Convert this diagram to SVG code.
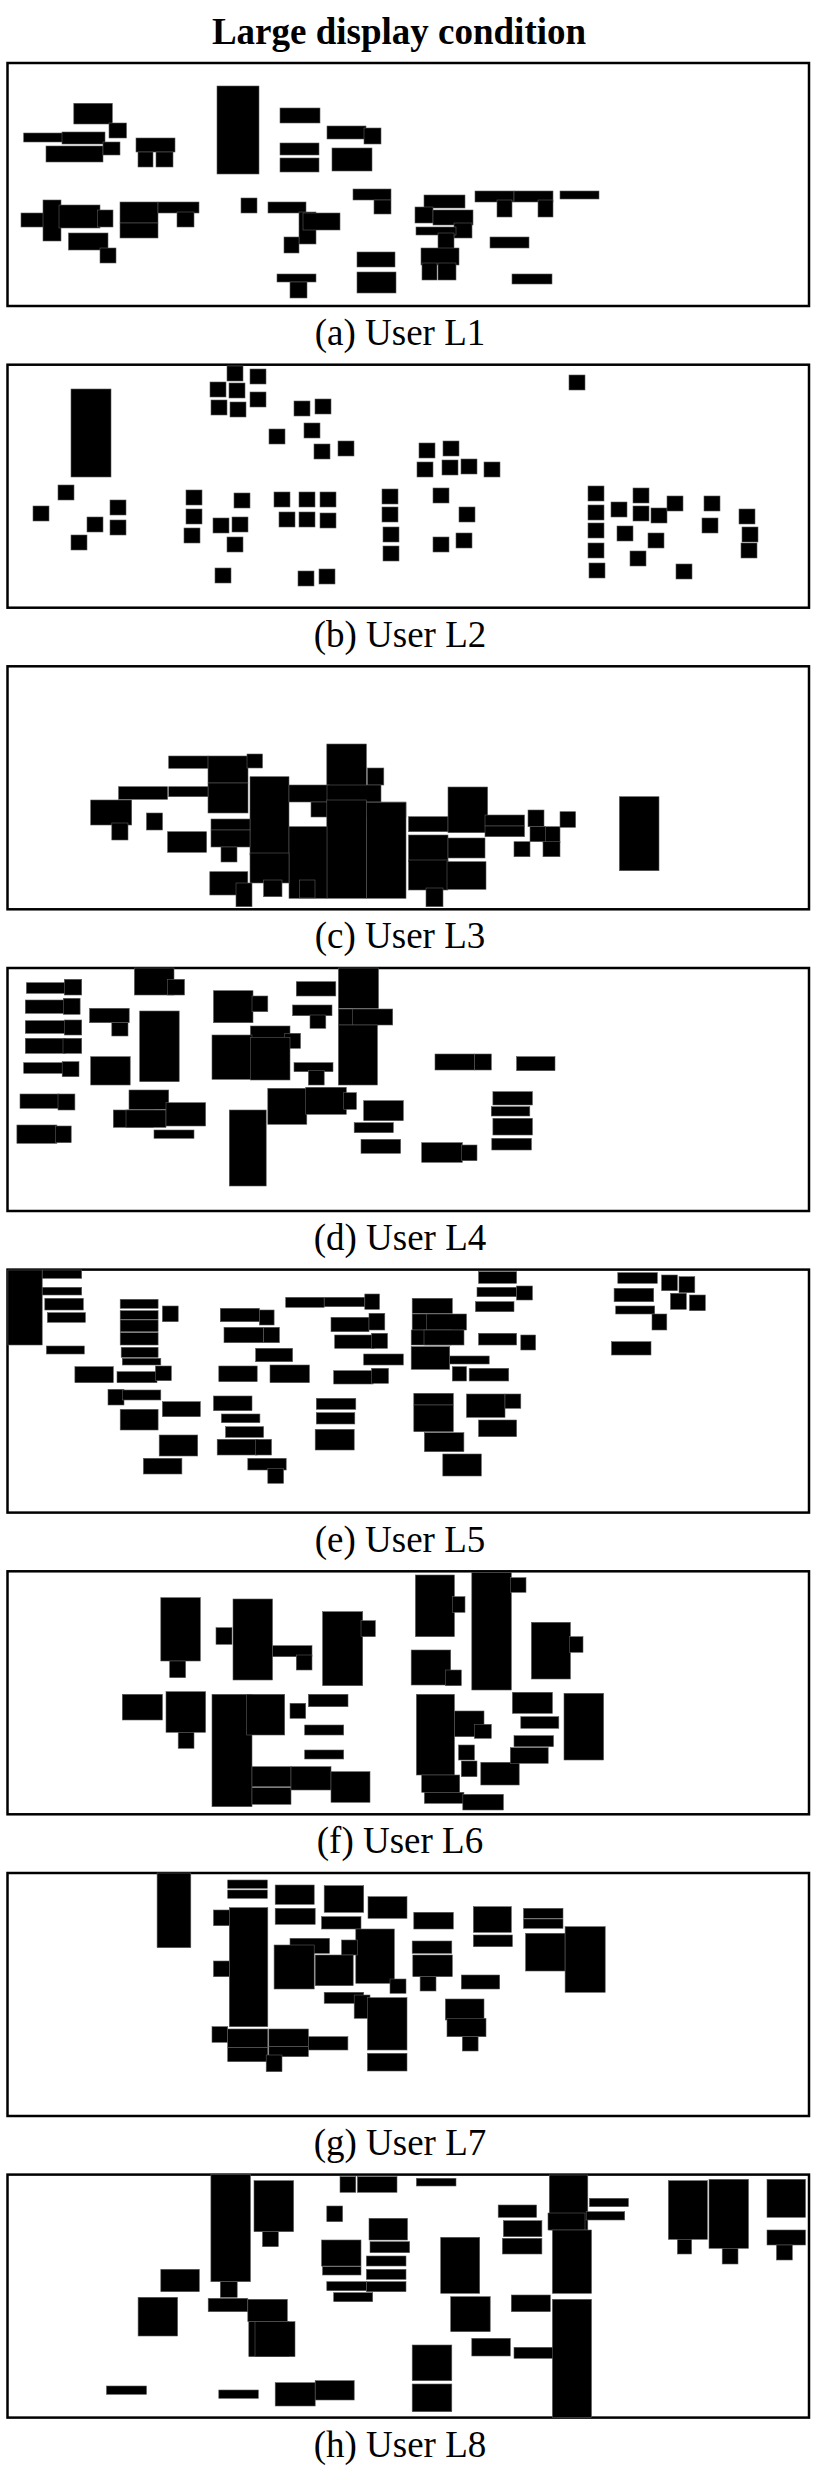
<svg xmlns="http://www.w3.org/2000/svg" width="816" height="2480" viewBox="0 0 816 2480">
<style>
.frame{fill:#fff;stroke:#000;stroke-width:2.5}
.b rect{fill:#000;stroke:#5a5a5a;stroke-width:0.6}
.cap{font-family:"Liberation Serif","Times New Roman",serif;font-size:37px;text-anchor:middle;fill:#000}
.title{font-family:"Liberation Serif","Times New Roman",serif;font-size:37px;font-weight:bold;text-anchor:middle;fill:#000}
</style>
<rect x="0" y="0" width="816" height="2480" fill="#fff"/>
<text class="title" x="399" y="44">Large display condition</text>

<g id="panel-a">
<rect class="frame" x="7.5" y="63" width="801.5" height="243"/>
<g class="b">
<rect x="73.8" y="103.3" width="38.5" height="20.7"/>
<rect x="109" y="123" width="17.5" height="15"/>
<rect x="23.7" y="133" width="40.6" height="9"/>
<rect x="62" y="132" width="43" height="12"/>
<rect x="46" y="146" width="57" height="16"/>
<rect x="103" y="142" width="17" height="13"/>
<rect x="136" y="138" width="39" height="14"/>
<rect x="138" y="152" width="15" height="15"/>
<rect x="156" y="152" width="17" height="15"/>
<rect x="217" y="86" width="42" height="88"/>
<rect x="280" y="108" width="40" height="15"/>
<rect x="327" y="126" width="39" height="13"/>
<rect x="364" y="128" width="17" height="16"/>
<rect x="280" y="143" width="39" height="12"/>
<rect x="280" y="158" width="39" height="14"/>
<rect x="332" y="148" width="40" height="23"/>
<rect x="21" y="213" width="40" height="14"/>
<rect x="43" y="200" width="18" height="41"/>
<rect x="59" y="205" width="41" height="23"/>
<rect x="97.5" y="210" width="15.5" height="17"/>
<rect x="68.5" y="233" width="39.5" height="17"/>
<rect x="100" y="248" width="16" height="15"/>
<rect x="120" y="202" width="38" height="21"/>
<rect x="120" y="223" width="38" height="15"/>
<rect x="158" y="202" width="41" height="11"/>
<rect x="177" y="212" width="17" height="15"/>
<rect x="241" y="198" width="16" height="15"/>
<rect x="268" y="202" width="38" height="11"/>
<rect x="299" y="212" width="17" height="32"/>
<rect x="303" y="213" width="37" height="17"/>
<rect x="284" y="237" width="15" height="16"/>
<rect x="277" y="274" width="39" height="8"/>
<rect x="290" y="282" width="17" height="16"/>
<rect x="353" y="189" width="38" height="11"/>
<rect x="374" y="200" width="17" height="14"/>
<rect x="357" y="252" width="38" height="15"/>
<rect x="357" y="272" width="39" height="21"/>
<rect x="424" y="195" width="41" height="13"/>
<rect x="415" y="207" width="18" height="16"/>
<rect x="433" y="210" width="40" height="15"/>
<rect x="454" y="223" width="18" height="15"/>
<rect x="416" y="227" width="40" height="8"/>
<rect x="438" y="233" width="16" height="20"/>
<rect x="421" y="248" width="38" height="17"/>
<rect x="422" y="263" width="15" height="17"/>
<rect x="438" y="263" width="18" height="17"/>
<rect x="475" y="191" width="39" height="11"/>
<rect x="497" y="200" width="15" height="17"/>
<rect x="514" y="191" width="39" height="11"/>
<rect x="538" y="200" width="15" height="17"/>
<rect x="560" y="191" width="39" height="8"/>
<rect x="490" y="237" width="39" height="11"/>
<rect x="512" y="274" width="40" height="10"/>
</g>
<text class="cap" x="400" y="345">(a) User L1</text>
</g>

<g id="panel-b">
<rect class="frame" x="7.5" y="364.7" width="801.5" height="243"/>
<g class="b">
<rect x="71" y="389" width="40" height="88"/>
<rect x="227" y="366" width="16" height="15"/>
<rect x="250" y="369" width="16" height="15"/>
<rect x="210" y="382" width="16" height="15"/>
<rect x="229" y="383" width="16" height="15"/>
<rect x="250" y="392" width="16" height="15"/>
<rect x="211" y="400" width="16" height="15"/>
<rect x="230" y="402" width="16" height="15"/>
<rect x="294" y="401" width="16" height="15"/>
<rect x="315" y="399" width="16" height="15"/>
<rect x="269" y="429" width="16" height="15"/>
<rect x="304" y="423" width="16" height="15"/>
<rect x="314" y="444" width="16" height="15"/>
<rect x="338" y="441" width="16" height="15"/>
<rect x="419" y="443" width="16" height="15"/>
<rect x="443" y="441" width="16" height="15"/>
<rect x="417" y="462" width="16" height="15"/>
<rect x="442" y="460" width="16" height="15"/>
<rect x="461" y="459" width="16" height="15"/>
<rect x="484" y="462" width="16" height="15"/>
<rect x="569" y="375" width="16" height="15"/>
<rect x="58" y="485" width="16" height="15"/>
<rect x="33" y="506" width="16" height="15"/>
<rect x="110" y="500" width="16" height="15"/>
<rect x="87" y="517" width="16" height="15"/>
<rect x="110" y="520" width="16" height="15"/>
<rect x="71" y="535" width="16" height="15"/>
<rect x="186" y="490" width="16" height="15"/>
<rect x="186" y="509" width="16" height="15"/>
<rect x="184" y="528" width="16" height="15"/>
<rect x="234" y="493" width="16" height="15"/>
<rect x="213" y="518" width="16" height="15"/>
<rect x="232" y="517" width="16" height="15"/>
<rect x="227" y="537" width="16" height="15"/>
<rect x="274" y="492" width="16" height="15"/>
<rect x="299" y="492" width="16" height="15"/>
<rect x="320" y="492" width="16" height="15"/>
<rect x="279" y="512" width="16" height="15"/>
<rect x="299" y="512" width="16" height="15"/>
<rect x="320" y="513" width="16" height="15"/>
<rect x="215" y="568" width="16" height="15"/>
<rect x="298" y="571" width="16" height="15"/>
<rect x="319" y="569" width="16" height="15"/>
<rect x="382" y="489" width="16" height="15"/>
<rect x="382" y="507" width="16" height="15"/>
<rect x="383" y="527" width="16" height="15"/>
<rect x="383" y="546" width="16" height="15"/>
<rect x="433" y="488" width="16" height="15"/>
<rect x="459" y="507" width="16" height="15"/>
<rect x="433" y="537" width="16" height="15"/>
<rect x="456" y="533" width="16" height="15"/>
<rect x="588" y="486" width="16" height="15"/>
<rect x="588" y="505" width="16" height="15"/>
<rect x="588" y="523" width="16" height="15"/>
<rect x="588" y="543" width="16" height="15"/>
<rect x="589" y="563" width="16" height="15"/>
<rect x="611" y="502" width="16" height="15"/>
<rect x="633" y="488" width="16" height="15"/>
<rect x="633" y="506" width="16" height="15"/>
<rect x="651" y="508" width="16" height="15"/>
<rect x="667" y="496" width="16" height="15"/>
<rect x="617" y="526" width="16" height="15"/>
<rect x="648" y="533" width="16" height="15"/>
<rect x="630" y="551" width="16" height="15"/>
<rect x="676" y="564" width="16" height="15"/>
<rect x="704" y="496" width="16" height="15"/>
<rect x="702" y="518" width="16" height="15"/>
<rect x="739" y="509" width="16" height="15"/>
<rect x="742" y="527" width="16" height="15"/>
<rect x="741" y="543" width="16" height="15"/>
</g>
<text class="cap" x="400" y="646.6">(b) User L2</text>
</g>

<g id="panel-c">
<rect class="frame" x="7.5" y="666.3" width="801.5" height="243"/>
<g class="b">
<rect x="168.7" y="756" width="39.5" height="12.3"/>
<rect x="208" y="756" width="40" height="27"/>
<rect x="208" y="783" width="40" height="30"/>
<rect x="247" y="754" width="15.5" height="14"/>
<rect x="250" y="776.7" width="39" height="78.3"/>
<rect x="118.6" y="786.7" width="49" height="12.6"/>
<rect x="168.7" y="786.7" width="39.3" height="10"/>
<rect x="90.7" y="800" width="41" height="25"/>
<rect x="111.8" y="823" width="16.2" height="17"/>
<rect x="146.5" y="813" width="16" height="17"/>
<rect x="167.6" y="831.7" width="39" height="20.6"/>
<rect x="211" y="819" width="39" height="11"/>
<rect x="211" y="830" width="39" height="17"/>
<rect x="221" y="847" width="16" height="15"/>
<rect x="326.8" y="744" width="39.6" height="42.7"/>
<rect x="367.4" y="768" width="16.4" height="17"/>
<rect x="289" y="785" width="40" height="17"/>
<rect x="327" y="785" width="54" height="17"/>
<rect x="311" y="802" width="40" height="15"/>
<rect x="366" y="802" width="40" height="15"/>
<rect x="326.8" y="800" width="39.6" height="98.3"/>
<rect x="366.4" y="802.7" width="39.6" height="95.6"/>
<rect x="289" y="826.7" width="38" height="71.6"/>
<rect x="250" y="853" width="39" height="30"/>
<rect x="209.8" y="871.7" width="38" height="23.3"/>
<rect x="236" y="883" width="16" height="23.7"/>
<rect x="263.6" y="880" width="18.4" height="16.7"/>
<rect x="299.4" y="880" width="15.6" height="18"/>
<rect x="408.5" y="816.7" width="39.5" height="15"/>
<rect x="448" y="787" width="39.6" height="45.7"/>
<rect x="408.5" y="835" width="39.5" height="26.7"/>
<rect x="448" y="838" width="37" height="20"/>
<rect x="408.5" y="860" width="39.5" height="30"/>
<rect x="447" y="861.7" width="39" height="27.6"/>
<rect x="426" y="888" width="17" height="18.7"/>
<rect x="485" y="815" width="39.5" height="11"/>
<rect x="485" y="826" width="39.5" height="10.7"/>
<rect x="528" y="810" width="16" height="16.7"/>
<rect x="543" y="826.7" width="17" height="16"/>
<rect x="560" y="811.7" width="15.6" height="15.6"/>
<rect x="514" y="841.7" width="16" height="15"/>
<rect x="543" y="841.7" width="17" height="15"/>
<rect x="530" y="826.7" width="15.6" height="15"/>
<rect x="619.4" y="796.7" width="39.6" height="74"/>
</g>
<text class="cap" x="400" y="948.2">(c) User L3</text>
</g>

<g id="panel-d">
<rect class="frame" x="7.5" y="968" width="801.5" height="243"/>
<g class="b">
<rect x="134.4" y="968" width="39.6" height="27"/>
<rect x="167.6" y="979.3" width="16.9" height="15.7"/>
<rect x="26.4" y="982.7" width="41" height="10.6"/>
<rect x="64.3" y="979.3" width="17.4" height="15.7"/>
<rect x="25.3" y="1000" width="40.6" height="13.3"/>
<rect x="63.3" y="998.3" width="16.8" height="16"/>
<rect x="25.3" y="1020.7" width="40.6" height="12.6"/>
<rect x="64.3" y="1020" width="17.4" height="15"/>
<rect x="25.3" y="1038.3" width="40" height="15"/>
<rect x="63" y="1038.3" width="18.7" height="15"/>
<rect x="23.7" y="1062.7" width="39.6" height="10.6"/>
<rect x="62.2" y="1061.7" width="16.8" height="15"/>
<rect x="89.6" y="1008.3" width="39.6" height="14.4"/>
<rect x="111.8" y="1022.7" width="16.2" height="13.3"/>
<rect x="90.7" y="1056.7" width="39.5" height="28.3"/>
<rect x="139.7" y="1011" width="39.5" height="70.7"/>
<rect x="213.5" y="990.7" width="39.5" height="32"/>
<rect x="252" y="996" width="15.8" height="15.7"/>
<rect x="296.3" y="981.7" width="39.5" height="14.3"/>
<rect x="292.6" y="1005" width="39.4" height="10.7"/>
<rect x="310" y="1015" width="15.8" height="13.3"/>
<rect x="338.4" y="968" width="40.1" height="40.3"/>
<rect x="338.4" y="1009" width="40" height="16"/>
<rect x="352.7" y="1009" width="40" height="16"/>
<rect x="338.4" y="1025" width="39" height="60"/>
<rect x="250.4" y="1026" width="39.6" height="14"/>
<rect x="284.7" y="1033.3" width="15.8" height="15"/>
<rect x="212" y="1035" width="40" height="44.3"/>
<rect x="250.4" y="1037.3" width="39.6" height="42.7"/>
<rect x="294" y="1062.7" width="39" height="9"/>
<rect x="308.4" y="1070.7" width="15.8" height="14.3"/>
<rect x="435" y="1054" width="39.4" height="16"/>
<rect x="474.4" y="1054" width="16.9" height="16"/>
<rect x="516.6" y="1056.7" width="38.4" height="14"/>
<rect x="20" y="1094" width="39" height="14.3"/>
<rect x="58" y="1094" width="16.9" height="16"/>
<rect x="16.9" y="1125" width="40" height="18.3"/>
<rect x="55.4" y="1126" width="15.8" height="16.7"/>
<rect x="129" y="1090" width="39.7" height="19.3"/>
<rect x="113.3" y="1110" width="40" height="17.3"/>
<rect x="126" y="1110" width="40" height="17.3"/>
<rect x="166" y="1102.7" width="39.6" height="23.3"/>
<rect x="154" y="1130" width="40" height="8.3"/>
<rect x="229.3" y="1110" width="36.9" height="76"/>
<rect x="267.8" y="1088.3" width="39" height="36"/>
<rect x="305.7" y="1087.3" width="40.6" height="27"/>
<rect x="343.7" y="1092.7" width="12.7" height="16.6"/>
<rect x="363.7" y="1100.7" width="39.6" height="20"/>
<rect x="354.2" y="1122.7" width="39.1" height="10"/>
<rect x="361" y="1139.3" width="39.6" height="14"/>
<rect x="421.7" y="1142.7" width="40.6" height="19.6"/>
<rect x="461.3" y="1145" width="15.7" height="15.7"/>
<rect x="492.9" y="1091.7" width="39.5" height="13.3"/>
<rect x="491.3" y="1106.7" width="38.5" height="9.3"/>
<rect x="492.9" y="1118.3" width="39.5" height="16.7"/>
<rect x="491.8" y="1138.3" width="39.6" height="11.7"/>
</g>
<text class="cap" x="400" y="1249.9">(d) User L4</text>
</g>

<g id="panel-e">
<rect class="frame" x="7.5" y="1269.6" width="801.5" height="243"/>
<g class="b">
<rect x="7.9" y="1270" width="34.3" height="75"/>
<rect x="42.2" y="1270" width="39.5" height="8.3"/>
<rect x="42.2" y="1287.3" width="39.5" height="7.7"/>
<rect x="44.8" y="1298.3" width="38.5" height="11.7"/>
<rect x="47.4" y="1312.7" width="38" height="9.6"/>
<rect x="46.4" y="1346" width="37.9" height="8"/>
<rect x="120.2" y="1299.3" width="37.9" height="9"/>
<rect x="120.2" y="1310.7" width="37.9" height="8.6"/>
<rect x="162.4" y="1306" width="15.8" height="15.7"/>
<rect x="120.2" y="1320" width="37.9" height="11.7"/>
<rect x="120.2" y="1332.7" width="37.9" height="12.3"/>
<rect x="121.2" y="1347.3" width="36.9" height="10"/>
<rect x="122.3" y="1358.3" width="38.5" height="6.7"/>
<rect x="117" y="1371.7" width="40" height="11"/>
<rect x="155.5" y="1366" width="15.8" height="14.7"/>
<rect x="74.9" y="1366.7" width="38.4" height="16"/>
<rect x="108" y="1389.3" width="16" height="15.7"/>
<rect x="122.3" y="1390" width="38.5" height="10"/>
<rect x="162.4" y="1401.7" width="37.9" height="15"/>
<rect x="120.2" y="1409.3" width="37.9" height="20.7"/>
<rect x="159.2" y="1435" width="38.5" height="21"/>
<rect x="143.4" y="1458.3" width="38.5" height="15.7"/>
<rect x="220.3" y="1308.3" width="39.1" height="13.4"/>
<rect x="259.4" y="1310" width="14.7" height="15"/>
<rect x="224" y="1327.3" width="39.6" height="15.4"/>
<rect x="263.6" y="1327.3" width="15.8" height="15.4"/>
<rect x="255.7" y="1348.3" width="36.9" height="13.4"/>
<rect x="218.8" y="1366" width="38.4" height="15.7"/>
<rect x="270" y="1365" width="39.4" height="17.7"/>
<rect x="213.5" y="1396" width="38.5" height="14.7"/>
<rect x="221.4" y="1414" width="38.5" height="8.7"/>
<rect x="225.6" y="1426.7" width="38" height="10.6"/>
<rect x="217.2" y="1439.3" width="40" height="15.7"/>
<rect x="255.7" y="1439.3" width="15.8" height="15.7"/>
<rect x="247.8" y="1458.3" width="38.4" height="11.7"/>
<rect x="267.8" y="1468.3" width="15.8" height="15"/>
<rect x="285.7" y="1297.3" width="38.5" height="10"/>
<rect x="324.2" y="1297.3" width="40.6" height="9.4"/>
<rect x="364.8" y="1294" width="14.7" height="15.3"/>
<rect x="331" y="1317.3" width="38" height="14.4"/>
<rect x="369" y="1313.3" width="15.8" height="16.7"/>
<rect x="334.7" y="1335" width="39.6" height="13.3"/>
<rect x="371.6" y="1333.3" width="15.9" height="15"/>
<rect x="363.7" y="1354" width="39.6" height="11"/>
<rect x="333.7" y="1370.7" width="39.5" height="13.3"/>
<rect x="371.6" y="1368.3" width="16.9" height="15"/>
<rect x="316.3" y="1398.3" width="39.5" height="11"/>
<rect x="316.3" y="1412.7" width="38.5" height="11.3"/>
<rect x="315.2" y="1429.3" width="39" height="20.7"/>
<rect x="412.2" y="1298.3" width="40.1" height="15"/>
<rect x="412.2" y="1314" width="40" height="16"/>
<rect x="426.5" y="1314" width="40" height="16"/>
<rect x="411.2" y="1330" width="40" height="15"/>
<rect x="424" y="1330" width="40" height="15"/>
<rect x="411.2" y="1346.7" width="38.5" height="22.6"/>
<rect x="449.7" y="1356" width="39.5" height="8"/>
<rect x="452.3" y="1366.7" width="14.2" height="14.3"/>
<rect x="469.2" y="1368.3" width="39.5" height="12.7"/>
<rect x="478.6" y="1271.7" width="38" height="11.6"/>
<rect x="477" y="1287.3" width="39.6" height="9.4"/>
<rect x="516.6" y="1286" width="15.8" height="14"/>
<rect x="475.5" y="1301.7" width="38.5" height="10"/>
<rect x="478.6" y="1333.3" width="38" height="11.7"/>
<rect x="520.8" y="1335" width="14.8" height="15"/>
<rect x="413.8" y="1393.3" width="39.5" height="11.7"/>
<rect x="413.8" y="1405" width="39.5" height="26.7"/>
<rect x="424.4" y="1432.7" width="39.5" height="19"/>
<rect x="442.8" y="1454" width="38.5" height="22"/>
<rect x="466.5" y="1394" width="38.5" height="23.3"/>
<rect x="505" y="1394" width="15.8" height="14.3"/>
<rect x="478.6" y="1420" width="38" height="16.7"/>
<rect x="617.8" y="1272.7" width="39.5" height="10.6"/>
<rect x="614.1" y="1288.3" width="39.6" height="13.4"/>
<rect x="615.7" y="1306" width="39" height="8"/>
<rect x="652" y="1314" width="14.8" height="16"/>
<rect x="611.5" y="1341.7" width="39.5" height="13.3"/>
<rect x="661.6" y="1275" width="15.8" height="15.7"/>
<rect x="679" y="1276.7" width="15.8" height="16"/>
<rect x="670.5" y="1293.3" width="15.8" height="16"/>
<rect x="689.5" y="1295" width="15.8" height="15.7"/>
</g>
<text class="cap" x="400" y="1551.5">(e) User L5</text>
</g>

<g id="panel-f">
<rect class="frame" x="7.5" y="1571.3" width="801.5" height="243"/>
<g class="b">
<rect x="160.8" y="1597.7" width="39.5" height="63.3"/>
<rect x="169.7" y="1661" width="15.9" height="16.7"/>
<rect x="216" y="1627.7" width="16" height="16.6"/>
<rect x="233" y="1599" width="39.5" height="81"/>
<rect x="272.5" y="1645.7" width="39.5" height="11"/>
<rect x="296.3" y="1655" width="15.7" height="15"/>
<rect x="322.6" y="1611.7" width="40.1" height="74"/>
<rect x="361" y="1620.7" width="14.3" height="16"/>
<rect x="415.4" y="1575" width="39" height="61.7"/>
<rect x="452.3" y="1596.7" width="12.7" height="15.6"/>
<rect x="411.2" y="1650" width="39.5" height="35"/>
<rect x="445.4" y="1670" width="15.9" height="15.7"/>
<rect x="471.8" y="1572.3" width="39.5" height="117.7"/>
<rect x="510.3" y="1577.7" width="15.7" height="14.6"/>
<rect x="531.4" y="1622.3" width="39" height="56.7"/>
<rect x="569.3" y="1636.7" width="13.7" height="15.6"/>
<rect x="122.3" y="1694.3" width="40.1" height="25.7"/>
<rect x="166" y="1691.7" width="39.6" height="40.6"/>
<rect x="178.2" y="1732.3" width="15.8" height="16"/>
<rect x="212" y="1694.3" width="40" height="112.4"/>
<rect x="246.7" y="1694.3" width="38" height="40.7"/>
<rect x="290" y="1703.3" width="15.7" height="15"/>
<rect x="308.4" y="1694.3" width="39.6" height="12.4"/>
<rect x="304.7" y="1725" width="39" height="10"/>
<rect x="304.7" y="1750" width="39" height="9"/>
<rect x="252" y="1766.7" width="39" height="20"/>
<rect x="252" y="1787.7" width="39" height="16.6"/>
<rect x="291" y="1766.7" width="40" height="23.3"/>
<rect x="331" y="1771.7" width="39" height="30.6"/>
<rect x="416.4" y="1694.3" width="38" height="80.7"/>
<rect x="454.4" y="1711" width="29.6" height="25.7"/>
<rect x="474.4" y="1724.3" width="16.9" height="14"/>
<rect x="458.6" y="1745" width="15.8" height="15"/>
<rect x="461.3" y="1761" width="15.7" height="15.7"/>
<rect x="421.7" y="1775" width="38" height="17.3"/>
<rect x="424.4" y="1792.3" width="39.5" height="11"/>
<rect x="462.8" y="1794.3" width="40.6" height="15.7"/>
<rect x="480.8" y="1762.3" width="38.4" height="22.7"/>
<rect x="510.3" y="1747.7" width="37.9" height="15.6"/>
<rect x="514" y="1735.7" width="39.5" height="11"/>
<rect x="520.8" y="1716.7" width="38" height="11.6"/>
<rect x="512.4" y="1692.3" width="40" height="21"/>
<rect x="564" y="1693.3" width="39.6" height="66.7"/>
</g>
<text class="cap" x="400" y="1853.2">(f) User L6</text>
</g>

<g id="panel-g">
<rect class="frame" x="7.5" y="1873" width="801.5" height="243"/>
<g class="b">
<rect x="157.1" y="1873" width="33.7" height="74.7"/>
<rect x="227.7" y="1880" width="39.6" height="8.3"/>
<rect x="227.7" y="1890" width="39.6" height="8.3"/>
<rect x="213.5" y="1910" width="15.8" height="15.7"/>
<rect x="229.3" y="1907.7" width="38.5" height="119"/>
<rect x="213.5" y="1961" width="15.8" height="15.7"/>
<rect x="275.2" y="1885" width="39" height="19.3"/>
<rect x="275.2" y="1908.3" width="40" height="16"/>
<rect x="324.2" y="1885.7" width="39.5" height="26.6"/>
<rect x="368" y="1896.7" width="39" height="21.6"/>
<rect x="321.6" y="1916.7" width="39.4" height="12.3"/>
<rect x="355.8" y="1929" width="38.5" height="54.3"/>
<rect x="390" y="1979" width="16" height="14.3"/>
<rect x="290" y="1938.3" width="39.5" height="15"/>
<rect x="341.6" y="1940" width="15.8" height="15"/>
<rect x="274.1" y="1945" width="40.1" height="44"/>
<rect x="315.2" y="1955" width="38" height="30.7"/>
<rect x="413.8" y="1912.3" width="39.5" height="16.7"/>
<rect x="412.2" y="1941" width="39.6" height="12.3"/>
<rect x="412.8" y="1955" width="39.5" height="21.7"/>
<rect x="420.1" y="1976.7" width="15.9" height="14.3"/>
<rect x="473.4" y="1906.7" width="37.9" height="25.6"/>
<rect x="473.4" y="1935" width="39" height="11.7"/>
<rect x="461.3" y="1975" width="38.4" height="14"/>
<rect x="523.5" y="1908.3" width="39.5" height="10"/>
<rect x="523.5" y="1919" width="39.5" height="9.3"/>
<rect x="525.6" y="1933.3" width="39.5" height="37.7"/>
<rect x="565.1" y="1926.7" width="40.1" height="65.6"/>
<rect x="324.2" y="1992.3" width="39.5" height="11"/>
<rect x="354.2" y="1995" width="15.8" height="23.3"/>
<rect x="367.4" y="1997.7" width="39.6" height="52.3"/>
<rect x="367.4" y="2053.3" width="39.6" height="17.7"/>
<rect x="445.4" y="1999" width="38.6" height="21"/>
<rect x="447" y="2018.3" width="39" height="18.4"/>
<rect x="462.3" y="2036.7" width="15.8" height="14.3"/>
<rect x="212" y="2026.7" width="15.7" height="15.6"/>
<rect x="227.7" y="2029" width="40.1" height="18.7"/>
<rect x="227.7" y="2047.7" width="40.1" height="14"/>
<rect x="268.8" y="2029" width="39.6" height="17.7"/>
<rect x="268.8" y="2046.7" width="39.6" height="10"/>
<rect x="266.2" y="2055" width="15.8" height="16.7"/>
<rect x="308.4" y="2036.7" width="39.5" height="13.3"/>
</g>
<text class="cap" x="400" y="2154.9">(g) User L7</text>
</g>

<g id="panel-h">
<rect class="frame" x="7.5" y="2174.6" width="801.5" height="243"/>
<g class="b">
<rect x="210.9" y="2174.6" width="39.5" height="107.1"/>
<rect x="220.3" y="2281.7" width="16.9" height="15.6"/>
<rect x="254" y="2180.7" width="39.6" height="51"/>
<rect x="262.5" y="2231.7" width="15.8" height="15"/>
<rect x="340" y="2176.7" width="15.8" height="15.6"/>
<rect x="357.4" y="2176.7" width="39.6" height="15.6"/>
<rect x="416.4" y="2178.3" width="39.6" height="7.7"/>
<rect x="326.8" y="2206" width="15.8" height="15.7"/>
<rect x="369" y="2218.3" width="38.5" height="21.7"/>
<rect x="370" y="2241.7" width="39.6" height="11"/>
<rect x="321.6" y="2240" width="39.4" height="26"/>
<rect x="322.6" y="2266.7" width="38.4" height="8.3"/>
<rect x="366.4" y="2256" width="39.6" height="10"/>
<rect x="366.4" y="2269.3" width="39.6" height="10"/>
<rect x="366.4" y="2281.7" width="39.6" height="10"/>
<rect x="326.8" y="2281.7" width="39.6" height="9"/>
<rect x="333.7" y="2292.7" width="39" height="9"/>
<rect x="160.8" y="2269.3" width="38.5" height="22.4"/>
<rect x="138.1" y="2297.3" width="39.5" height="38.7"/>
<rect x="208.2" y="2298.3" width="39.6" height="13.4"/>
<rect x="247.8" y="2299.3" width="39.5" height="22.4"/>
<rect x="248.8" y="2321.7" width="40" height="35"/>
<rect x="255" y="2321.7" width="40" height="35"/>
<rect x="440.7" y="2237.3" width="39" height="56"/>
<rect x="450.7" y="2296.7" width="39.5" height="35"/>
<rect x="498.2" y="2205" width="38.4" height="12.3"/>
<rect x="503.4" y="2220.7" width="38.5" height="16"/>
<rect x="502.4" y="2238.3" width="39.5" height="15.7"/>
<rect x="511.3" y="2295" width="39" height="16.7"/>
<rect x="471.8" y="2338.3" width="38.5" height="17.7"/>
<rect x="514" y="2347.3" width="39.5" height="11"/>
<rect x="549.3" y="2175" width="38.5" height="55"/>
<rect x="548" y="2213" width="37" height="17"/>
<rect x="552.4" y="2230" width="39.1" height="63.3"/>
<rect x="552.4" y="2299.3" width="39.1" height="118.3"/>
<rect x="589.4" y="2198.3" width="39" height="8.4"/>
<rect x="586.2" y="2211.7" width="38.5" height="8.3"/>
<rect x="668.4" y="2180.7" width="39" height="58.6"/>
<rect x="677.4" y="2239.3" width="14.2" height="14.7"/>
<rect x="709" y="2179.3" width="39.5" height="69"/>
<rect x="722.2" y="2248.3" width="15.8" height="15.7"/>
<rect x="767" y="2179.3" width="38.5" height="38"/>
<rect x="767" y="2230" width="38.5" height="15"/>
<rect x="776.5" y="2245" width="15.8" height="15"/>
<rect x="412.2" y="2345" width="39.6" height="35.7"/>
<rect x="412.2" y="2384" width="39.6" height="27.7"/>
<rect x="275.2" y="2382.7" width="40" height="23.3"/>
<rect x="315.2" y="2380.7" width="39" height="19.3"/>
<rect x="218.8" y="2390" width="39.5" height="8.3"/>
<rect x="106.5" y="2386" width="40" height="8.3"/>
</g>
<text class="cap" x="400" y="2456.5">(h) User L8</text>
</g>
</svg>
